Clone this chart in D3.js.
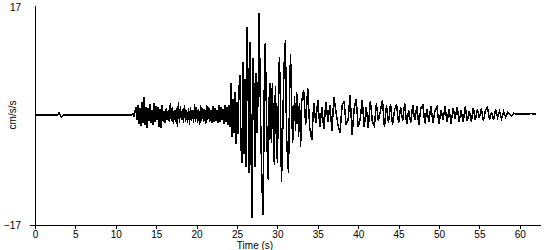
<!DOCTYPE html>
<html>
<head>
<meta charset="utf-8">
<script src="https://cdn.jsdelivr.net/npm/d3@7"></script>
<style>
  body { margin: 0; background: #fff; }
  svg { display: block; }
  text { font-family: "Liberation Sans", Arial, sans-serif; font-size: 10px; fill: #000; }
  .axis path, .axis line { stroke: #000; shape-rendering: crispEdges; }
  .trace { fill: none; stroke: #000; stroke-width: 1.5; shape-rendering: crispEdges; }
</style>
</head>
<body>
<svg id="chart" width="550" height="250"></svg>
<script>
// acceleration record in cm/s/s
// t = 0 .. 12 s, every 0.25 s
var preEvent = [0, 0, 0, 0, 0, 0, 0, 0, 0, 0, 0, 0, 0.35, -0.3, 0, 0,
    0, 0, 0, 0, 0, 0, 0, 0, 0, 0, 0, 0, 0, 0, 0, 0,
    0, 0, 0, 0, 0, 0, 0, 0, 0, 0, 0, 0, 0, 0, 0, 0, 0];

// t = 12 .. 24 s, every 0.125 s
var pWave = [
    0, 0.2, -0.3, 0.5,   1.2, -0.8, 1.6, -1.4,   1.0, -1.7, 2.0, -1.2,
    2.8, -1.5, 1.3, -2.0,   1.1, -0.9, 1.7, -1.3,   0.8, -1.6, 1.9, -1.1,
    1.4, -0.7, 1.2, -1.8,   0.9, -2.0, 1.5, -1.0,   0.6, -1.3, 1.1, -0.8,
    0.7, -1.1, 1.8, -0.9,   1.3, -1.4, 0.8, -1.0,   1.0, -1.8, 2.0, -1.2,
    1.4, -0.8, 0.9, -1.3,   1.6, -1.0, 0.7, -1.2,   1.1, -1.5, 1.3, -0.9,
    0.8, -1.2, 1.7, -1.0,   1.2, -1.3, 0.9, -1.6,   1.5, -0.9, 1.1, -1.1,
    0.9, -1.4, 1.6, -0.8,   1.2, -1.0, 0.8, -1.3,   1.4, -1.1, 1.0, -0.9,
    0.7, -1.2, 1.5, -1.0,   1.3, -0.8, 0.9, -1.4,   1.6, -1.1, 1.2, -1.5
];

// t = 24 .. 33 s, every 0.125 s
var strongMotion = [
    1.5, -1.8, 5.0, -3.4, 2.4, -2.8, 3.6, -4.5,
    2.0, -3.0, 4.2, 6.2, -5.0, -7.4, 8.2, -6.0,
    5.5, -8.0, 13.6, 4.0, -9.0, 11.3, -6.5, -15.9,
    8.8, 2.5, -8.0, 6.5, -2.8, 4.5, 15.8, 3.0,
    -6.0, -12.0, -15.5, 4.0, 11.1, 2.0, -6.0, -10.0,
    3.5, 5.0, -4.3, 5.0, -3.0, -7.7, 4.5, -2.5,
    -7.4, 3.0, 9.0, 2.0, -10.3, -5.0, 4.0, 9.3,
    11.6, -3.0, -6.5, -9.0, 2.5, 9.5, 3.0, -4.3,
    -2.0, 3.0, -2.5, 3.5, 2.3, -3.4, 1.8, -4.9
];

// t = 33 .. 62 s, every 0.25 s
var coda = [
    2.0, 3.9, -1.5, 4.2, -2.0, -3.9, 1.8, -1.2, 2.3, -1.8, 1.2, -2.2,
    2.0, -1.0, 1.5, -2.4, 2.8, 0.5, -1.6, -2.8, 1.4, 2.2, -1.5, -0.8,
    3.1, -3.1, 1.0, 2.4, -1.8, -0.6, 2.3, -1.9, 1.2, -2.0, 2.2, -1.0,
    -1.7, 1.8, -0.9, 0.6, 2.3, -1.9, 1.5, -1.2, 1.7, -1.5, 0.8, 1.6,
    -1.3, 1.2, -0.9, 1.8, -1.4, 0.7, -1.2, 1.5, -0.8, 1.3, -1.5, 1.0,
    1.6, -1.3, 0.9, -1.0, 1.4, -1.2, 0.6, 1.2, -1.4, 0.8, -0.7, 1.3,
    -1.1, 0.9, -1.3, 1.1, -0.6, 1.2, -1.0, 0.7, -1.1, 1.3, -0.9, 0.6,
    -1.0, 1.1, -0.8, 0.9, -0.5, 1.0, -0.9, 0.7, 1.2, -0.7, 0.5, -0.8,
    0.9, -0.4, 0.6, -0.6, 0.5, -0.3, 0.4, 0.2, -0.2, 0.3, 0.1, 0.2,
    0.1, 0.2, 0.1, 0.2, 0.1, 0.2, 0.2, 0.1, 0.2
];

var segments = [
    { start: 0, step: 0.25, values: preEvent },
    { start: 12, step: 0.125, values: pWave },
    { start: 24, step: 0.125, values: strongMotion },
    { start: 33, step: 0.25, values: coda }
];

var timeTicks = [0, 5, 10, 15, 20, 25, 30, 35, 40, 45, 50, 55, 60];
var accelTicks = [-17, 17];

var points = [];
segments.forEach(function(seg) {
    seg.values.forEach(function(v, i) {
        points.push({ t: seg.start + i * seg.step, a: v });
    });
});

var svg = d3.select('#chart');

var x = d3.scaleLinear().domain([0, 62.5]).range([35, 540]);
var y = d3.scaleLinear().domain([-17, 17]).range([225, 5]);

// x axis
svg.append('g')
    .attr('class', 'axis x')
    .attr('transform', 'translate(0,225)')
    .call(d3.axisBottom(x).tickValues(timeTicks).tickSize(4).tickSizeOuter(0).tickPadding(2))
    .call(function(g) {
        g.attr('font-family', null).attr('font-size', null);
    });

// y axis, only the bottom value gets a tick stub
svg.append('g')
    .attr('class', 'axis y')
    .attr('transform', 'translate(35,0)')
    .call(d3.axisLeft(y).tickValues(accelTicks).tickSize(5).tickSizeOuter(0).tickPadding(9))
    .call(function(g) {
        g.attr('font-family', null).attr('font-size', null);
        g.selectAll('.tick').filter(function(d) { return d === 17; })
            .call(function(t) {
                t.select('line').remove();
                t.select('text').attr('x', -14).attr('dy', '0.5em');
            });
    });

svg.append('text')
    .attr('x', 255)
    .attr('y', 249)
    .attr('text-anchor', 'middle')
    .text('Time (s)');

svg.append('text')
    .attr('transform', 'translate(16,115) rotate(-90)')
    .attr('text-anchor', 'middle')
    .text('cm/s/s');

var line = d3.line()
    .x(function(d) { return x(d.t); })
    .y(function(d) { return y(d.a); });

svg.append('path')
    .datum(points)
    .attr('class', 'trace')
    .attr('d', line);
</script>
</body>
</html>
